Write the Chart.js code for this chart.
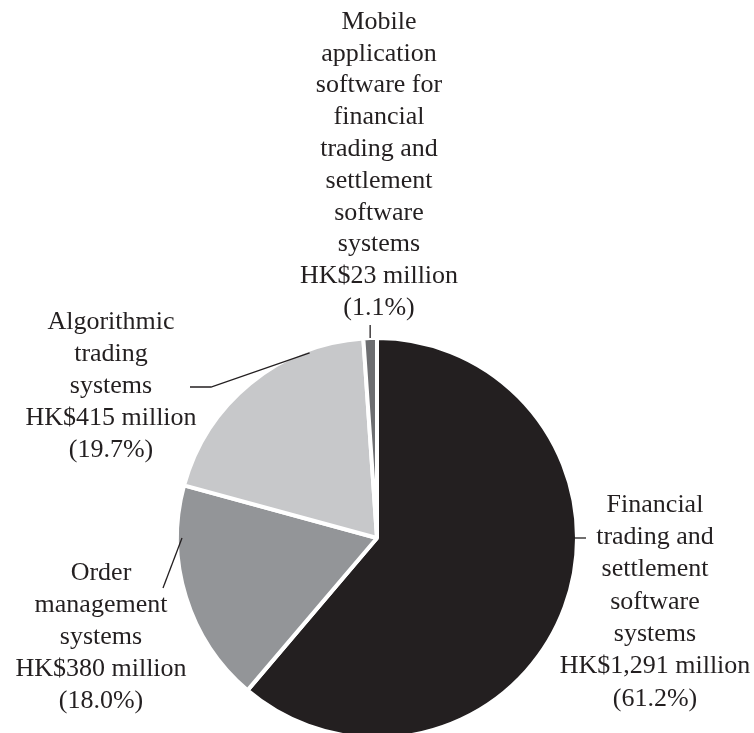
<!DOCTYPE html>
<html>
<head>
<meta charset="utf-8">
<script src="https://cdn.jsdelivr.net/npm/chart.js@4.4.1/dist/chart.umd.min.js"></script>
<style>
  html, body { margin: 0; padding: 0; background: #fff; overflow: hidden; }
  #wrap { width: 754px; height: 745px; }
</style>
</head>
<body>
<div id="wrap"><canvas id="pie"></canvas></div>
<script>
// segment names, split the way they are set on the page
const categories = [
  ['Financial', 'trading and', 'settlement', 'software', 'systems'],
  ['Order', 'management', 'systems'],
  ['Algorithmic', 'trading', 'systems'],
  ['Mobile', 'application', 'software for', 'financial', 'trading and', 'settlement', 'software', 'systems']
];
const revenue = [1291, 380, 415, 23]; // HK$ million
const sliceColors = ['#231f20', '#939598', '#c7c8ca', '#6d6e71'];

// label block placement and leader routing (angles clockwise from 12 o'clock)
const labelLayout = [
  { cx: 655, top: 505, step: 32.3, leaderAt: 90, inset: 2, leader: [[586, 538]] },
  { cx: 101, top: 573, step: 32, leaderAt: 270, inset: 5, leader: [[163, 588]] },
  { cx: 111, top: 322, step: 32, leaderAt: 340, inset: 3, leader: [[211, 387], [190, 387]] },
  { cx: 379, top: 22, step: 31.8, leaderAt: null, inset: 0, leader: [[null, 325]] }
];

const TEXT = '#231f20';

const leaderLabels = {
  id: 'leaderLabels',
  afterDatasetsDraw(chart) {
    const ctx = chart.ctx;
    const meta = chart.getDatasetMeta(0);
    const total = revenue.reduce((a, b) => a + b, 0);
    ctx.save();
    meta.data.forEach((arc, i) => {
      const { x, y, startAngle, endAngle, outerRadius } =
        arc.getProps(['x', 'y', 'startAngle', 'endAngle', 'outerRadius'], true);
      const lay = labelLayout[i];
      const a = lay.leaderAt === null
        ? (startAngle + endAngle) / 2
        : (lay.leaderAt - 90) * Math.PI / 180;
      const r = outerRadius - lay.inset;
      const sx = x + r * Math.cos(a);
      const sy = y + r * Math.sin(a);

      ctx.strokeStyle = TEXT;
      ctx.lineWidth = 1.3;
      ctx.beginPath();
      ctx.moveTo(sx, sy);
      lay.leader.forEach(([px, py]) => ctx.lineTo(px === null ? sx : px, py));
      ctx.stroke();

      const lines = categories[i].concat([
        'HK$' + revenue[i].toLocaleString('en-US') + ' million',
        '(' + (revenue[i] / total * 100).toFixed(1) + '%)'
      ]);
      ctx.fillStyle = TEXT;
      ctx.font = '26px "Liberation Serif"';
      ctx.textAlign = 'center';
      ctx.textBaseline = 'middle';
      lines.forEach((t, k) => ctx.fillText(t, lay.cx, lay.top + k * lay.step));
    });
    ctx.restore();
  }
};

new Chart(document.getElementById('pie'), {
  type: 'pie',
  data: {
    labels: categories.map(c => c.join(' ')),
    datasets: [{
      data: revenue,
      backgroundColor: sliceColors,
      borderColor: '#ffffff',
      borderWidth: 4
    }]
  },
  options: {
    responsive: true,
    maintainAspectRatio: false,
    animation: false,
    events: [],
    radius: 200,
    layout: { padding: { left: 175, right: 175, top: 336, bottom: 5 } },
    plugins: {
      legend: { display: false },
      tooltip: { enabled: false }
    }
  },
  plugins: [leaderLabels]
});
</script>
</body>
</html>
